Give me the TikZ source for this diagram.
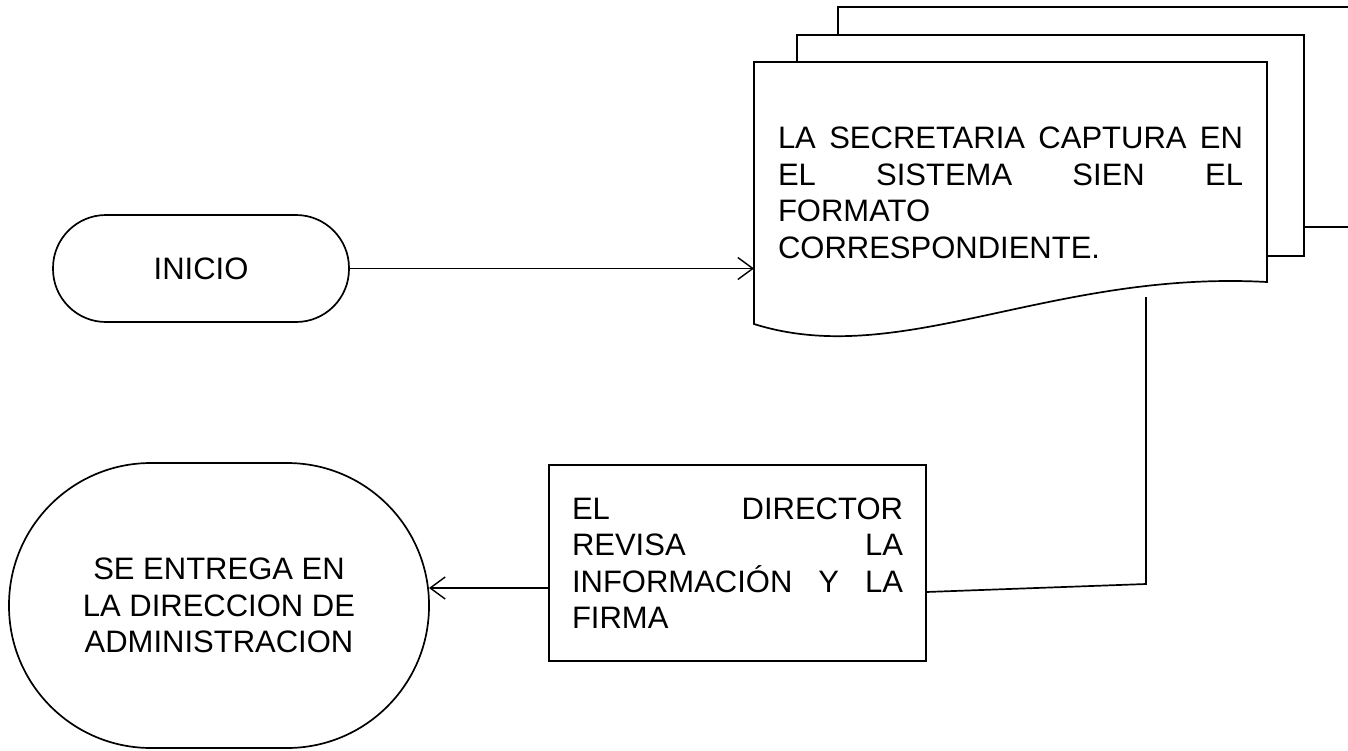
\documentclass[tikz,border=0pt]{standalone}
\usepackage{fontspec}
\setmainfont{Liberation Sans}
\usetikzlibrary{arrows.meta}
\begin{document}
\begin{tikzpicture}[x=1pt,y=-1pt,line width=1.7pt,
  every node/.style={inner sep=0pt,outer sep=0pt},
  txt/.style={font=\fontsize{31}{36.5}\selectfont},
  arr/.style={-{Straight Barb[length=15pt,width=22pt,line width=1.4pt]}},
  shp/.style={draw,line width=1.7pt}]
\useasboundingbox (0,0) rectangle (1348,750);
% stacked documents behind
\draw[shp] (838,35) -- (838,7) -- (1352,7);
\draw[shp] (1304,227) -- (1352,227);
\draw[shp] (797,62) -- (797,35) -- (1304,35) -- (1304,256) -- (1267,256);
% front document
\node[txt,anchor=north west,text width=465pt,inner xsep=24pt,inner ysep=65pt,align=left] (doc) at (754,62)
  {\makebox[465pt][l]{LA \hfill SECRETARIA \hfill CAPTURA \hfill EN}\\\makebox[465pt][l]{EL \hfill SISTEMA \hfill SIEN \hfill EL}\\FORMATO\\CORRESPONDIENTE.};
\draw[shp] (doc.north west) -- (doc.north east) -- (doc.north east |- 0,282)
  .. controls (1050,270) and (900,370) .. (doc.north west |- 0,324) -- cycle;
% start
\node[txt,draw,rounded corners=53pt,minimum width=296pt,minimum height=107pt] (ini) at (201,268.5) {INICIO};
% director
\node[txt,draw,anchor=north west,text width=331pt,inner xsep=23pt,minimum height=196pt,align=left] (dir) at (549,465)
  {\makebox[331pt][l]{EL \hfill DIRECTOR}\\\makebox[331pt][l]{REVISA \hfill LA}\\\makebox[331pt][l]{INFORMACIÓN \hfill Y \hfill LA}\\FIRMA};
% end
\node[txt,draw,rounded corners=142pt,minimum width=420pt,minimum height=285pt,align=center] (fin) at (219,605.5)
  {SE ENTREGA EN\\LA DIRECCION DE\\ADMINISTRACION};
% connectors
\coordinate (dq) at (1146,297);
\draw[arr] (ini.east) -- (ini.east -| doc.west);
\draw (dq) -- (1146,584) -- (dir.east |- 0,592);
\draw[arr] (dir.west |- 0,588) -- (fin.east |- 0,588);
\end{tikzpicture}
\end{document}
